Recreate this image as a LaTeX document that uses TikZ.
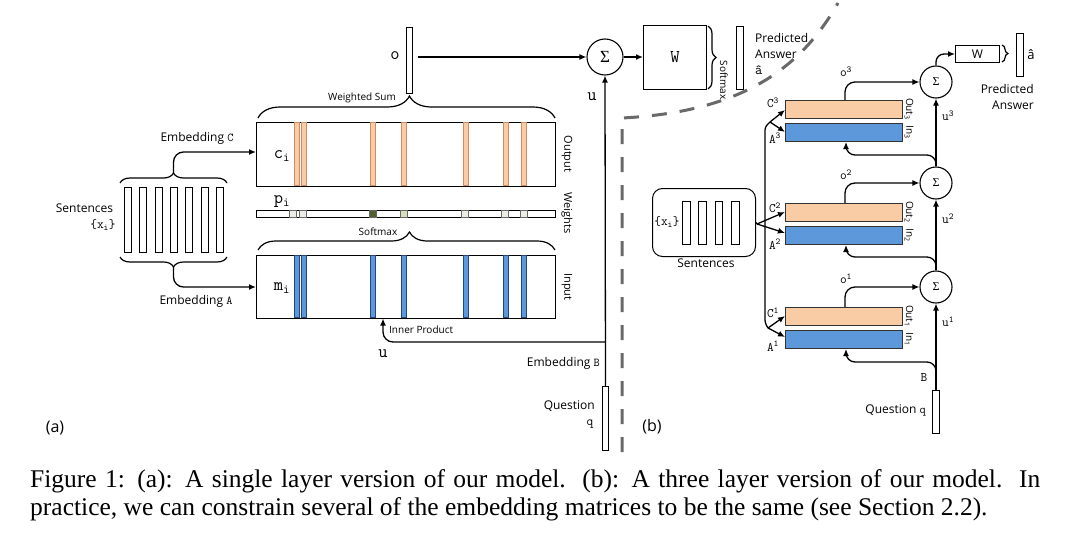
\documentclass[tikz,border=0pt]{standalone}
\usepackage{fontspec}
\usepackage{graphicx}
\setmainfont{Open Sans}
\newfontfamily\capfont{Liberation Serif}
\usetikzlibrary{arrows.meta,decorations.pathreplacing,calc}
\definecolor{peach}{RGB}{249,204,166}
\definecolor{peachdark}{RGB}{205,140,100}
\definecolor{bluef}{RGB}{92,152,218}
\definecolor{bluedark}{RGB}{35,70,125}
\definecolor{dashgray}{RGB}{105,105,105}
\definecolor{wlight}{RGB}{236,238,230}
\definecolor{wdark}{RGB}{82,96,48}
\definecolor{wgreen}{RGB}{214,224,186}
\newcommand{\tsb}[2]{#1\textsubscript{#2}}
\newcommand{\tsp}[2]{#1\textsuperscript{#2}}
\tikzset{
  lab/.style={font=\fontsize{12}{15}\selectfont, inner sep=0pt},
  smalllab/.style={font=\fontsize{10}{12}\selectfont, inner sep=0pt},
  rotlab/.style={font=\fontsize{11}{13}\selectfont, inner sep=0pt, rotate=-90},
  var/.style={font=\fontsize{18}{20}\selectfont\ttfamily, inner sep=0pt},
  varb/.style={font=\fontsize{13}{15}\selectfont\ttfamily, inner sep=0pt},
  vec/.style={draw, line width=1pt, fill=white, inner sep=0pt, anchor=north west},
  mat/.style={draw, line width=1.1pt, inner sep=0pt, anchor=north west},
  conn/.style={line width=1.3pt, -{Latex[length=7pt,width=6pt]}},
  plain/.style={line width=1.3pt},
  sumnode/.style={circle, draw, line width=1.1pt, inner sep=0pt},
  bracestyle/.style={decorate, line width=1.2pt, decoration={brace, amplitude=#1}},
  stripeO/.style={fill=peach, draw=peachdark, line width=0.6pt},
  stripeB/.style={fill=bluef, draw=bluedark, line width=0.6pt},
  sq/.style={draw=black!60, line width=0.6pt},
  outbox/.style={draw=black!80, line width=1pt, fill=peach, inner sep=0pt, anchor=north west, minimum width=117pt, minimum height=18pt},
  inbox/.style={draw=black!80, line width=1pt, fill=bluef, inner sep=0pt, anchor=north west, minimum width=117pt, minimum height=18pt},
}
\begin{document}
\begin{tikzpicture}[x=1pt,y=-1pt]
\useasboundingbox (0,0) rectangle (1080,538);

% ---------------- (a) ----------------
% sentences
\foreach \i in {0,...,6} {
  \node[vec, minimum width=7pt, minimum height=65pt] (s\i) at ({124+15.33*\i},187) {};
}
\node[lab] (sentl) at (84.5,208) {Sentences};
\node[varb] (xil) at (103,225) {\{\tsb{x}{i}\}};
\draw[bracestyle=10pt] (120,183) -- (227,183);
\draw[bracestyle=10pt] (227,257) -- (120,257);
\coordinate (btop) at (173.5,173);
\coordinate (bbot) at (173.5,267);

% memory matrices
\node[mat, minimum width=299pt, minimum height=64pt] (outm) at (256,122) {};
\node[mat, minimum width=299pt, minimum height=63pt] (inm) at (256,255) {};
\node[mat, minimum width=299pt, minimum height=7pt] (wts) at (256,210) {};
\foreach \x in {294.3,301.3,370.7,401.7,463.3,503.3,521.7} {
  \draw[stripeO] (\x,122.5) rectangle ++(5,63);
  \draw[stripeB] (\x,255.5) rectangle ++(5,62);
}
\foreach \x/\c in {289/wlight,299/wlight,369/wdark,400/wgreen,461/wlight,501/wlight,520/wlight} {
  \draw[sq, fill=\c] (\x,210) rectangle ++(7,7);
}
\node[var] (cil) at (282,156) {\tsb{c}{i}};
\node[var] (pil) at (282,202) {\tsb{p}{i}};
\node[var] (mil) at (282,288) {\tsb{m}{i}};
\node[rotlab] (outl) at (567,154) {Output};
\node[rotlab] (wtl) at (567,213) {Weights};
\node[rotlab] (inl) at (567,287) {Input};

\draw[conn, rounded corners=10pt] (btop) |- (outm.west |- 0,152);
\draw[conn, rounded corners=10pt] (bbot) |- (inm.west |- 0,287);
\node[lab] (embC) at (197,138) {Embedding {\ttfamily C}};
\node[lab] (embA) at (196,301) {Embedding {\ttfamily A}};

% braces above matrices
\draw[bracestyle=22pt, decoration={aspect=0.51}] (258,118) -- (555,118);
\node[smalllab] (wsl) at (362,98) {Weighted Sum};
\draw[bracestyle=18pt, decoration={aspect=0.51}] (258,250) -- (555,250);
\node[smalllab] (sml) at (378,232) {Softmax};

% o vector, sum, W
\node[vec, minimum width=6pt, minimum height=66pt] (ov) at (406,27) {};
\node[var] (ol) at (395,56) {o};
\node[sumnode, minimum size=36pt, font=\fontsize{17}{17}\selectfont\capfont] (sigA) at (605,57) {Σ};
\draw[conn, shorten <=5pt] (ov.east |- sigA) -- (sigA.west);
\node[mat, minimum width=63pt, minimum height=64pt] (Wa) at (643,25) {};
\node[var] (Wal) at (Wa.center) {W};
\draw[conn] (sigA.east) -- (Wa.west |- sigA);
\draw[bracestyle=8pt] (708,26) -- (708,89);
\node[smalllab, rotate=-90] (smw) at (724,80) {Softmax};
\node[vec, minimum width=7pt, minimum height=63pt] (ansA) at (736,26) {};
\node[lab, anchor=north west, align=left, font=\fontsize{12}{16}\selectfont] (predA) at (755,33) {Predicted\\Answer\\{\ttfamily\fontsize{14}{16}\selectfont â}};

% question and u
\node[vec, minimum width=6pt, minimum height=64pt] (qA) at (602,386) {};
\coordinate (ju) at (qA.north |- 0,342);
\coordinate (ipt) at (383,318.5);
\draw[conn] (qA.north) -- (sigA.south);
\draw[conn, rounded corners=10pt] (ju) -| (ipt);
\node[var] (ul) at (383,354) {u};
\node[smalllab, anchor=west] (ipl) at (389,330) {Inner Product};
\node[var] (u2l) at (592,97) {u};
\node[lab, anchor=east] (embB) at (600,363) {Embedding {\ttfamily B}};
\node[lab, anchor=east] (qal) at (595,406) {Question};
\node[varb] (qaql) at (590,424) {q};

\node[font=\fontsize{16}{18}\selectfont, inner sep=0pt] (alab) at (55,428) {(a)};
\node[font=\fontsize{16}{18}\selectfont, inner sep=0pt] (blab) at (652,427) {(b)};

% separator
\draw[dashgray, line width=3pt, dash pattern=on 15pt off 13pt] (622,452) -- (622,118) .. controls (740,112) and (800,70) .. (838,3);

% ---------------- (b) ----------------
\node[draw, line width=1pt, rounded corners=10pt, minimum width=103pt, minimum height=68pt, anchor=north west] (sentb) at (652,188) {};
\foreach \i in {0,...,3} {
  \node[vec, minimum width=7.5pt, minimum height=43pt] (sb\i) at ({682+16.4*\i},201) {};
}
\node[varb] (xib) at (667,222) {\{\tsb{x}{i}\}};
\node[lab] (sentbl) at (706,263) {Sentences};

\foreach \l/\y in {3/100,2/203,1/307} {
  \node[outbox] (o\l) at (785,\y) {};
  \node[inbox] (i\l) at (785,\y+23) {};
  \node[smalllab, rotate=-90] at (909,\y+9) {Out\textsubscript{\l}};
  \node[smalllab, rotate=-90] at (909,\y+32) {In\textsubscript{\l}};
}
\node[sumnode, minimum size=32pt, font=\fontsize{12}{12}\selectfont\capfont] (sig3) at (936,82) {Σ};
\node[sumnode, minimum size=32pt, font=\fontsize{12}{12}\selectfont\capfont] (sig2) at (936,183) {Σ};
\node[sumnode, minimum size=32pt, font=\fontsize{12}{12}\selectfont\capfont] (sig1) at (936,287) {Σ};

% forks
\coordinate (ap3) at (770,122);
\coordinate (ap2) at (757,224);
\coordinate (ap1) at (768,328);
\draw[plain, rounded corners=3pt] (ap1) -- (765,323) -- (765,127) -- (ap3);
\draw[plain] (sentb.east) -- (ap2);
\draw[conn] (ap3) -- (o3.west |- 0,110);
\draw[conn] (ap3) -- (i3.west |- 0,132);
\draw[conn] (ap2) -- (o2.west |- 0,212);
\draw[conn] (ap2) -- (i2.west |- 0,233);
\draw[conn] (ap1) -- (o1.west |- 0,316);
\draw[conn] (ap1) -- (i1.west |- 0,337);
\node[varb] at (773,103) {\tsp{C}{3}};
\node[varb] at (775,138) {\tsp{A}{3}};
\node[varb] at (775,208) {\tsp{C}{2}};
\node[varb] at (775,244) {\tsp{A}{2}};
\node[varb] at (773,313) {\tsp{C}{1}};
\node[varb] at (773,346) {\tsp{A}{1}};

% o arrows
\draw[conn, rounded corners=10pt] (o3.north -| 845,0) |- (sig3.west);
\draw[conn, rounded corners=10pt] (o2.north -| 845,0) |- (sig2.west);
\draw[conn, rounded corners=10pt] (o1.north -| 845,0) |- (sig1.west);
\node[varb] at (846,72) {\tsp{o}{3}};
\node[varb] at (846,175) {\tsp{o}{2}};
\node[varb] at (846,279) {\tsp{o}{1}};

% question b
\node[vec, minimum width=7pt, minimum height=43pt] (qB) at (932,390) {};
\draw[conn] (qB.north) -- (sig1.south);
\draw[conn] (sig1.north) -- (sig2.south);
\draw[conn] (sig2.north) -- (sig3.south);
\draw[conn, rounded corners=9pt] (qB.north |- 0,375) |- (846,362) -- (i1.south -| 846,0);
\draw[conn, rounded corners=9pt] (sig1.north) |- (846,257) -- (i2.south -| 846,0);
\draw[conn, rounded corners=9pt] (sig2.north) |- (846,155) -- (i3.south -| 846,0);
\node[varb, anchor=west] at (942,322) {\tsp{u}{1}};
\node[varb, anchor=west] at (942,219) {\tsp{u}{2}};
\node[varb, anchor=west] at (942,116) {\tsp{u}{3}};
\node[varb] at (924,378) {B};
\node[lab, anchor=east] at (926,410) {Question {\ttfamily q}};

% answer b
\node[draw, line width=1pt, inner sep=0pt, anchor=north west, minimum width=44pt, minimum height=17pt] (Wb) at (955,45) {};
\node[font=\fontsize{12}{12}\selectfont, inner sep=0pt] at (Wb.center) {W};
\draw[conn, rounded corners=8pt] (sig3.north) |- (Wb.west);
\draw[bracestyle=6pt] (1002,45) -- (1002,62);
\node[vec, minimum width=7pt, minimum height=43pt] (ansB) at (1016,33) {};
\node[lab, font=\fontsize{13}{15}\selectfont] at (1031,55) {â};
\node[lab, anchor=north east, align=right, font=\fontsize{12}{16}\selectfont] at (1034,84) {Predicted\\Answer};

% caption
\node[anchor=base west, inner sep=0pt, font=\fontsize{25.5}{28}\selectfont\capfont] (cap1) at (30,487)
 {\makebox[1010pt][s]{Figure 1: (a): A single layer version of our model.\ \ (b): A three layer version of our model.\ \ In}};
\node[anchor=base west, inner sep=0pt, font=\fontsize{25.5}{28}\selectfont\capfont] (cap2) at (30,515)
 {practice, we can constrain several of the embedding matrices to be the same (see Section 2.2).};
\end{tikzpicture}
\end{document}
